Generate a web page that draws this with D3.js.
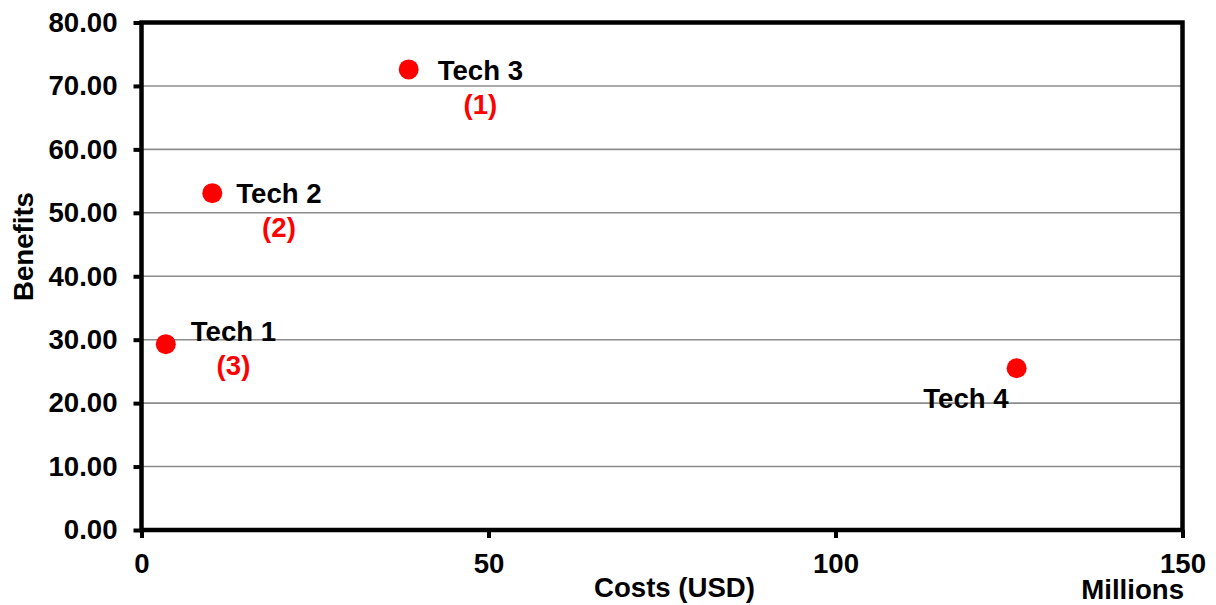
<!DOCTYPE html>
<html>
<head>
<meta charset="utf-8">
<script src="https://cdn.jsdelivr.net/npm/d3@7"></script>
<style>
  html, body { margin: 0; padding: 0; background: #fff; }
  svg text { font-family: "Liberation Sans", Arial, sans-serif; font-weight: bold; }
</style>
</head>
<body>
<svg id="chart" width="1216" height="605"></svg>
<script>
// Technology options: cost (USD millions) vs. benefit score
const categories = ["Tech 1", "Tech 2", "Tech 3", "Tech 4"];
const costs = [3.5, 10.2, 38.5, 126.1];
const benefits = [29.3, 53.1, 72.6, 25.5];
const ranks = ["(3)", "(2)", "(1)", ""];

const xTicks = [0, 50, 100, 150];
const yTicks = [0, 10, 20, 30, 40, 50, 60, 70, 80];

// label placement relative to each marker: [dx, dy, anchor]
const labelPlacement = [[25, -3, "start"], [24, 10, "start"], [29, 11, "start"], [-8, 40, "end"]];
const rankGap = 34;

const W = 1216, H = 605;
const margin = { left: 141.5, right: 33.5, top: 22.5, bottom: 75 };
const iw = W - margin.left - margin.right;
const ih = H - margin.top - margin.bottom;
const FS = 27.6;

const svg = d3.select("#chart");
const g = svg.append("g").attr("transform", `translate(${margin.left},${margin.top})`);

const x = d3.scaleLinear().domain([0, 150]).range([0, iw]);
const y = d3.scaleLinear().domain([0, 80]).range([ih, 0]);

// horizontal gridlines
g.append("g").selectAll("line")
  .data(yTicks.filter(t => t > 0 && t < 80))
  .join("line")
  .attr("x1", 0).attr("x2", iw)
  .attr("y1", d => y(d)).attr("y2", d => y(d))
  .attr("stroke", "#8c8c8c").attr("stroke-width", 1.6);

// y axis
const yAxis = g.append("g")
  .call(d3.axisLeft(y).tickValues(yTicks).tickFormat(d3.format(".2f")).tickSize(8).tickPadding(16));
yAxis.select(".domain").remove();
yAxis.selectAll(".tick line").attr("stroke", "#000").attr("stroke-width", 4);
yAxis.selectAll(".tick text")
  .attr("fill", "#000").style("font-size", FS + "px").style("font-family", "'Liberation Sans', Arial, sans-serif")
  .style("font-weight", "bold");

// x axis
const xAxis = g.append("g").attr("transform", `translate(0,${ih})`)
  .call(d3.axisBottom(x).tickValues(xTicks).tickFormat(d3.format("d")).tickSize(8).tickPadding(15));
xAxis.select(".domain").remove();
xAxis.selectAll(".tick line").attr("stroke", "#000").attr("stroke-width", 4);
xAxis.selectAll(".tick text")
  .attr("fill", "#000").style("font-size", FS + "px").style("font-family", "'Liberation Sans', Arial, sans-serif")
  .style("font-weight", "bold");

// plot frame
g.append("rect")
  .attr("x", 0).attr("y", 0).attr("width", iw).attr("height", ih)
  .attr("fill", "none").attr("stroke", "#000").attr("stroke-width", 4.5);

// points
const pts = categories.map((c, i) => ({ name: c, cost: costs[i], benefit: benefits[i], rank: ranks[i], place: labelPlacement[i] }));

g.append("g").selectAll("circle")
  .data(pts).join("circle")
  .attr("cx", d => x(d.cost)).attr("cy", d => y(d.benefit))
  .attr("r", 10).attr("fill", "#ff0000");

// labels
const lab = g.append("g").selectAll("g").data(pts).join("g");
lab.each(function(d) {
  const sel = d3.select(this);
  const px = x(d.cost) + d.place[0];
  const py = y(d.benefit) + d.place[1];
  const t = sel.append("text")
    .attr("x", px).attr("y", py)
    .attr("text-anchor", d.place[2])
    .attr("fill", "#000").style("font-size", FS + "px")
    .text(d.name);
  if (d.rank) {
    const w = t.node().getComputedTextLength();
    const cx = d.place[2] === "start" ? px + w / 2 : px - w / 2;
    sel.append("text")
      .attr("x", cx).attr("y", py + rankGap)
      .attr("text-anchor", "middle")
      .attr("fill", "#ff0000").style("font-size", FS + "px")
      .text(d.rank);
  }
});

// axis titles
svg.append("text")
  .attr("transform", `translate(33,246.5) rotate(-90)`)
  .attr("text-anchor", "middle").attr("fill", "#000").style("font-size", FS + "px")
  .text("Benefits");

svg.append("text")
  .attr("x", 674.5).attr("y", 597)
  .attr("text-anchor", "middle").attr("fill", "#000").style("font-size", FS + "px")
  .text("Costs (USD)");

svg.append("text")
  .attr("x", 1184).attr("y", 598.5)
  .attr("text-anchor", "end").attr("fill", "#000").style("font-size", FS + "px")
  .text("Millions");
</script>
</body>
</html>
